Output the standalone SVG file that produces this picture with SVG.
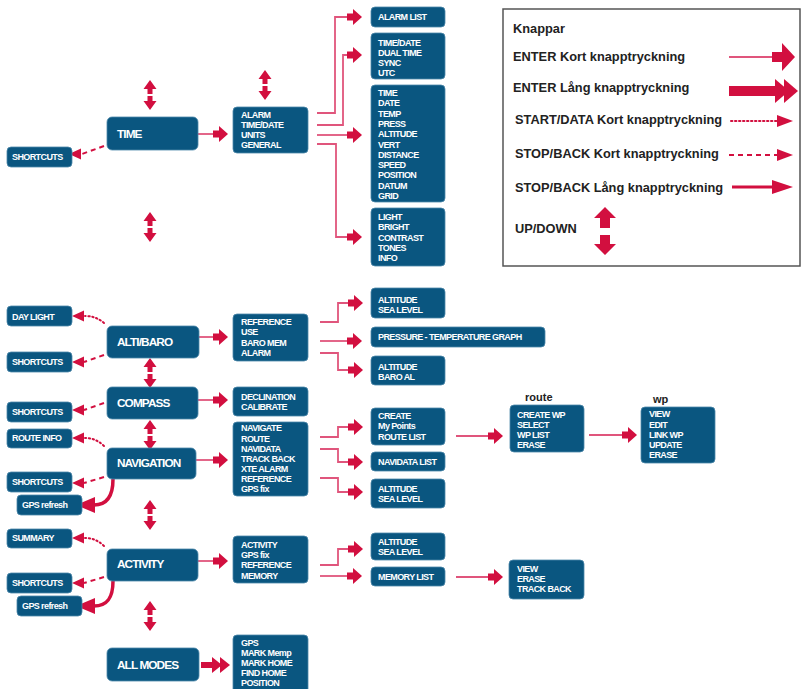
<svg xmlns="http://www.w3.org/2000/svg" xmlns:xlink="http://www.w3.org/1999/xlink" width="801" height="689" viewBox="0 0 801 689">
<style>
.box{fill:#0a5680;stroke:#4d88aa;stroke-width:0.8}
.t{font-family:"Liberation Sans",Arial,sans-serif;font-weight:bold;font-size:9px;fill:#fff;letter-spacing:-0.6px}
.tm{font-size:11.8px;letter-spacing:-0.9px}
.ln{stroke:#e0557c;stroke-width:1.8;fill:none}
.hd{fill:#d20f3f}
.dot{stroke:#d20f3f;stroke-width:2;stroke-dasharray:1.4 2.6;fill:none;stroke-linecap:round}
.dash{stroke:#d20f3f;stroke-width:2;stroke-dasharray:5 4;fill:none}
.thick{stroke:#d20f3f;stroke-width:3.5;fill:none}
.lg{font-family:"Liberation Sans",Arial,sans-serif;font-weight:bold;font-size:12.8px;fill:#222}
</style>
<defs>
<path id="ah" class="hd" d="M0,-3.5H6V-8L15,0L6,8V3.5H0Z"/>
<g id="ud" class="hd">
<polygon points="0,0 6.5,9 2.5,9 2.5,14 -2.5,14 -2.5,9 -6.5,9"/>
<polygon points="0,30 6.5,21 2.5,21 2.5,16 -2.5,16 -2.5,21 -6.5,21"/>
</g>
<polygon id="lh" class="hd" points="0,0 12,-5.5 12,5.5"/>
</defs>

<g id="connectors">
<use href="#ud" x="150" y="80"/>
<use href="#ud" x="150" y="212"/>
<use href="#ud" x="265" y="70"/>
<use href="#ud" x="150" y="358"/>
<use href="#ud" x="150" y="420"/>
<use href="#ud" x="150" y="500"/>
<use href="#ud" x="150" y="601"/>
<path class="dash" d="M104,146 L82,154"/>
<use href="#lh" x="69" y="154"/>
<path class="ln" d="M198,134H214"/>
<use href="#ah" x="213" y="134"/>
<path class="ln" d="M317,113H335V17H348"/>
<use href="#ah" x="347" y="17"/>
<path class="ln" d="M317,125H343V55H348"/>
<use href="#ah" x="347" y="55"/>
<path class="ln" d="M317,135H348"/>
<use href="#ah" x="347" y="135"/>
<path class="ln" d="M317,144H336V237H348"/>
<use href="#ah" x="347" y="237"/>
<path class="dot" d="M104,323 Q96,316 85,316"/>
<use href="#lh" x="72" y="316"/>
<path class="dash" d="M104,355 L84,362"/>
<use href="#lh" x="72" y="362"/>
<path class="ln" d="M199,337H214"/>
<use href="#ah" x="213" y="337"/>
<path class="ln" d="M320,322H338V303H349"/>
<use href="#ah" x="348" y="303"/>
<path class="ln" d="M320,341H349"/>
<use href="#ah" x="347" y="341"/>
<path class="ln" d="M320,353H338V370H349"/>
<use href="#ah" x="348" y="370"/>
<path class="dash" d="M104,403 L84,410"/>
<use href="#lh" x="72" y="410"/>
<path class="ln" d="M198,400H214"/>
<use href="#ah" x="213" y="400"/>
<path class="dot" d="M104,446 Q96,438 85,438"/>
<use href="#lh" x="72" y="438"/>
<path class="dash" d="M104,477 L84,483"/>
<use href="#lh" x="72" y="483"/>
<path class="thick" d="M113,479 C113,495 108,505 94,505"/>
<polygon class="hd" points="76,505 95,497 95,513"/>
<path class="ln" d="M196,460H214"/>
<use href="#ah" x="213" y="460"/>
<path class="ln" d="M320,437H338V427H349"/>
<use href="#ah" x="348" y="427"/>
<path class="ln" d="M320,449H338V462H349"/>
<use href="#ah" x="348" y="462"/>
<path class="ln" d="M320,478H338V492H349"/>
<use href="#ah" x="348" y="492"/>
<path class="ln" d="M456,436H489"/>
<use href="#ah" x="488" y="436"/>
<path class="ln" d="M589,435H623"/>
<use href="#ah" x="622" y="435"/>
<path class="dot" d="M104,546 Q96,538 85,538"/>
<use href="#lh" x="72" y="538"/>
<path class="dash" d="M104,577 L84,583"/>
<use href="#lh" x="72" y="583"/>
<path class="thick" d="M113,581 C113,597 108,606 94,606"/>
<polygon class="hd" points="76,606 95,598 95,614"/>
<path class="ln" d="M198,561H214"/>
<use href="#ah" x="213" y="561"/>
<path class="ln" d="M320,565H338V549H349"/>
<use href="#ah" x="348" y="549"/>
<path class="ln" d="M320,576H349"/>
<use href="#ah" x="347" y="576"/>
<path class="ln" d="M456,577H489"/>
<use href="#ah" x="488" y="577"/>
<rect class="hd" x="201" y="662" width="13" height="6"/>
<polygon class="hd" points="212,657 222,665 212,673"/>
<polygon class="hd" points="220,657 230,665 220,673"/>
</g>

<g id="time"><rect class="box" x="107" y="117" width="91" height="33" rx="5"/><text class="t tm" x="117" y="138">TIME</text></g>
<g id="shortcuts1"><rect class="box" x="7" y="147" width="65" height="20" rx="4"/><text class="t" x="12" y="160">SHORTCUTS</text></g>
<g id="time-menu"><rect class="box" x="233" y="107" width="75" height="46" rx="4"/>
<text class="t" x="241" y="118">ALARM</text><text class="t" x="241" y="128">TIME/DATE</text><text class="t" x="241" y="138">UNITS</text><text class="t" x="241" y="148">GENERAL</text></g>
<g id="alarm-list"><rect class="box" x="371" y="7" width="74" height="20" rx="4"/><text class="t" x="378" y="20">ALARM LIST</text></g>
<g id="timedate"><rect class="box" x="371" y="33" width="74" height="46" rx="4"/>
<text class="t" x="378" y="46">TIME/DATE</text><text class="t" x="378" y="56">DUAL TIME</text><text class="t" x="378" y="66">SYNC</text><text class="t" x="378" y="76">UTC</text></g>
<g id="units"><rect class="box" x="371" y="85" width="74" height="117" rx="4"/>
<text class="t" x="378" y="96">TIME</text><text class="t" x="378" y="106.3">DATE</text><text class="t" x="378" y="116.6">TEMP</text><text class="t" x="378" y="126.9">PRESS</text><text class="t" x="378" y="137.2">ALTITUDE</text><text class="t" x="378" y="147.5">VERT</text><text class="t" x="378" y="157.8">DISTANCE</text><text class="t" x="378" y="168.1">SPEED</text><text class="t" x="378" y="178.4">POSITION</text><text class="t" x="378" y="188.7">DATUM</text><text class="t" x="378" y="199">GRID</text></g>
<g id="general"><rect class="box" x="371" y="208" width="74" height="58" rx="4"/>
<text class="t" x="378" y="220">LIGHT</text><text class="t" x="378" y="230.3">BRIGHT</text><text class="t" x="378" y="240.5">CONTRAST</text><text class="t" x="378" y="250.8">TONES</text><text class="t" x="378" y="261">INFO</text></g>

<g id="daylight"><rect class="box" x="7" y="306" width="65" height="20" rx="4"/><text class="t" x="12" y="320">DAY LIGHT</text></g>
<g id="altibaro"><rect class="box" x="107" y="326" width="92" height="32" rx="5"/><text class="t tm" x="117" y="346">ALTI/BARO</text></g>
<g id="shortcuts2"><rect class="box" x="7" y="352" width="65" height="20" rx="4"/><text class="t" x="12" y="365">SHORTCUTS</text></g>
<g id="alti-menu"><rect class="box" x="233" y="314" width="75" height="47" rx="4"/>
<text class="t" x="241" y="325">REFERENCE</text><text class="t" x="241" y="335">USE</text><text class="t" x="241" y="346">BARO MEM</text><text class="t" x="241" y="356">ALARM</text></g>
<g id="alti-ref"><rect class="box" x="371" y="288" width="74" height="30" rx="4"/>
<text class="t" x="378" y="303">ALTITUDE</text><text class="t" x="378" y="313">SEA LEVEL</text></g>
<g id="graph"><rect class="box" x="371" y="327" width="174" height="20" rx="4"/><text class="t" x="378" y="340">PRESSURE - TEMPERATURE  GRAPH</text></g>
<g id="alti-alarm"><rect class="box" x="371" y="356" width="74" height="29" rx="4"/>
<text class="t" x="378" y="370">ALTITUDE</text><text class="t" x="378" y="380">BARO AL</text></g>

<g id="compass"><rect class="box" x="107" y="387" width="91" height="32" rx="5"/><text class="t tm" x="117" y="407">COMPASS</text></g>
<g id="shortcuts3"><rect class="box" x="7" y="402" width="65" height="20" rx="4"/><text class="t" x="12" y="415">SHORTCUTS</text></g>
<g id="compass-menu"><rect class="box" x="233" y="387" width="75" height="29" rx="4"/>
<text class="t" x="241" y="400">DECLINATION</text><text class="t" x="241" y="410">CALIBRATE</text></g>

<g id="routeinfo"><rect class="box" x="7" y="429" width="65" height="19" rx="4"/><text class="t" x="12" y="441">ROUTE INFO</text></g>
<g id="navigation"><rect class="box" x="107" y="448" width="89" height="31" rx="5"/><text class="t tm" x="117" y="467">NAVIGATION</text></g>
<g id="shortcuts4"><rect class="box" x="7" y="472" width="65" height="20" rx="4"/><text class="t" x="12" y="485">SHORTCUTS</text></g>
<g id="gps1"><rect class="box" x="17" y="495" width="65" height="20" rx="4"/><text class="t" x="22" y="508">GPS refresh</text></g>
<g id="nav-menu"><rect class="box" x="233" y="422" width="75" height="74" rx="4"/>
<text class="t" x="241" y="431">NAVIGATE</text><text class="t" x="241" y="442">ROUTE</text><text class="t" x="241" y="452">NAVIDATA</text><text class="t" x="241" y="462">TRACK BACK</text><text class="t" x="241" y="472">XTE ALARM</text><text class="t" x="241" y="482">REFERENCE</text><text class="t" x="241" y="492">GPS fix</text></g>
<g id="route-menu"><rect class="box" x="371" y="408" width="74" height="37" rx="4"/>
<text class="t" x="378" y="419">CREATE</text><text class="t" x="378" y="429">My Points</text><text class="t" x="378" y="440">ROUTE LIST</text></g>
<g id="navidata"><rect class="box" x="371" y="452" width="74" height="19" rx="4"/><text class="t" x="378" y="465">NAVIDATA LIST</text></g>
<g id="nav-alt"><rect class="box" x="371" y="479" width="74" height="29" rx="4"/>
<text class="t" x="378" y="492">ALTITUDE</text><text class="t" x="378" y="502">SEA LEVEL</text></g>
<g id="route"><text class="lg" x="525" y="401" style="font-size:11px">route</text>
<rect class="box" x="510" y="405" width="74" height="47" rx="4"/>
<text class="t" x="517" y="418">CREATE WP</text><text class="t" x="517" y="428">SELECT</text><text class="t" x="517" y="438">WP LIST</text><text class="t" x="517" y="448">ERASE</text></g>
<g id="wp"><text class="lg" x="653" y="403" style="font-size:11px">wp</text>
<rect class="box" x="641" y="407" width="74" height="56" rx="4"/>
<text class="t" x="649" y="417">VIEW</text><text class="t" x="649" y="428">EDIT</text><text class="t" x="649" y="438">LINK WP</text><text class="t" x="649" y="448">UPDATE</text><text class="t" x="649" y="458">ERASE</text></g>

<g id="summary"><rect class="box" x="7" y="529" width="65" height="19" rx="4"/><text class="t" x="12" y="541">SUMMARY</text></g>
<g id="activity"><rect class="box" x="107" y="549" width="91" height="32" rx="5"/><text class="t tm" x="117" y="568">ACTIVITY</text></g>
<g id="shortcuts5"><rect class="box" x="7" y="573" width="65" height="20" rx="4"/><text class="t" x="12" y="586">SHORTCUTS</text></g>
<g id="gps2"><rect class="box" x="17" y="596" width="65" height="20" rx="4"/><text class="t" x="22" y="609">GPS refresh</text></g>
<g id="act-menu"><rect class="box" x="233" y="536" width="75" height="47" rx="4"/>
<text class="t" x="241" y="548">ACTIVITY</text><text class="t" x="241" y="558">GPS fix</text><text class="t" x="241" y="568">REFERENCE</text><text class="t" x="241" y="579">MEMORY</text></g>
<g id="act-alt"><rect class="box" x="371" y="533" width="74" height="27" rx="4"/>
<text class="t" x="378" y="545">ALTITUDE</text><text class="t" x="378" y="555">SEA LEVEL</text></g>
<g id="memlist"><rect class="box" x="371" y="567" width="74" height="19" rx="4"/><text class="t" x="378" y="580">MEMORY LIST</text></g>
<g id="mem-menu"><rect class="box" x="509" y="560" width="75" height="39" rx="4"/>
<text class="t" x="517" y="572">VIEW</text><text class="t" x="517" y="582">ERASE</text><text class="t" x="517" y="592">TRACK BACK</text></g>

<g id="allmodes"><rect class="box" x="107" y="648" width="92" height="33" rx="5"/><text class="t tm" x="117" y="669">ALL MODES</text></g>
<g id="all-menu"><rect class="box" x="233" y="635" width="75" height="60" rx="4"/>
<text class="t" x="241" y="646">GPS</text><text class="t" x="241" y="656">MARK Memp</text><text class="t" x="241" y="666">MARK HOME</text><text class="t" x="241" y="676">FIND HOME</text><text class="t" x="241" y="686">POSITION</text></g>

<g id="legend">
<rect x="503" y="9" width="297" height="257" fill="#fff" stroke="#555" stroke-width="1.5"/>
<text class="lg" x="513" y="33">Knappar</text>
<text class="lg" x="513" y="61">ENTER Kort knapptryckning</text>
<text class="lg" x="513" y="92">ENTER Lång knapptryckning</text>
<text class="lg" x="515" y="124">START/DATA Kort knapptryckning</text>
<text class="lg" x="515" y="158">STOP/BACK Kort knapptryckning</text>
<text class="lg" x="515" y="192">STOP/BACK Lång knapptryckning</text>
<text class="lg" x="515" y="233">UP/DOWN</text>
<path class="ln" d="M729,57H774" stroke-width="1.5"/>
<path class="hd" d="M772,52H782V43L795,57L782,71V62H772Z"/>
<rect class="hd" x="729" y="86" width="47" height="10"/>
<polygon class="hd" points="775,79 789,91 775,103"/>
<polygon class="hd" points="784,79 798,91 784,103"/>
<path class="dot" d="M731,121H777"/>
<polygon class="hd" points="777,115 793,121 777,127"/>
<path class="dash" d="M729,155H777"/>
<polygon class="hd" points="777,149 793,155 777,161"/>
<path d="M732,187H774" stroke="#d20f3f" stroke-width="3"/>
<polygon class="hd" points="772,180 793,187 772,194"/>
<polygon class="hd" points="605,207 616,218 610,218 610,228 600,228 600,218 594,218"/>
<polygon class="hd" points="605,255 616,244 610,244 610,235 600,235 600,244 594,244"/>
</g>
</svg>
